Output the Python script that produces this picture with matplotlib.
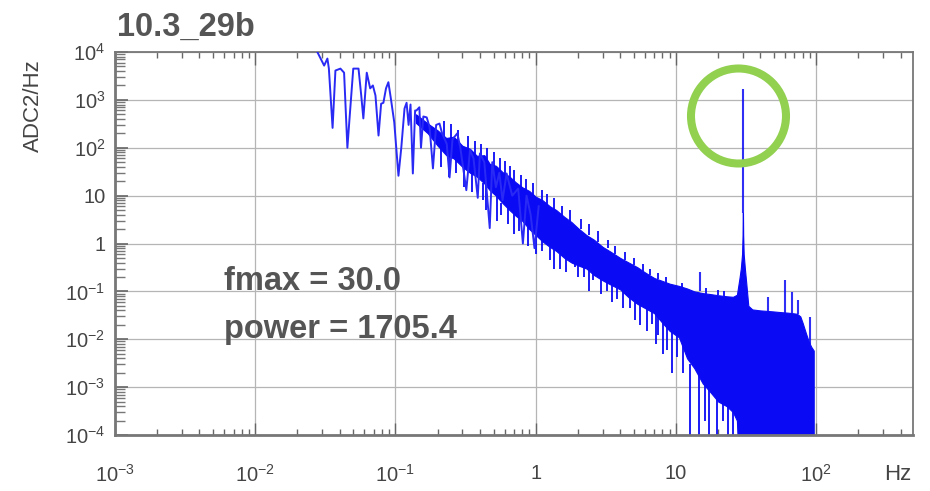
import matplotlib
matplotlib.use('agg')
import matplotlib.pyplot as plt
import numpy as np
from matplotlib import ticker
from matplotlib.patches import Ellipse

plt.rcParams['font.family'] = ['Liberation Sans', 'DejaVu Sans']
plt.rcParams['mathtext.fontset'] = 'custom'
plt.rcParams['mathtext.rm'] = 'Liberation Sans'
plt.rcParams['mathtext.bf'] = 'Liberation Sans:bold'

######## values ########
title = '10.3_29b'
fmax = 30.0
power = 1705.4

# low frequency part, single spiky trace
line_f = [0.0274, 0.031, 0.0327, 0.0335, 0.0356, 0.0373, 0.0405, 0.043, 0.0454, 0.047,
          0.050, 0.0545, 0.057, 0.059, 0.0624, 0.066, 0.069, 0.072, 0.0757, 0.079,
          0.082, 0.0856, 0.089, 0.093, 0.098, 0.105, 0.110, 0.116, 0.120, 0.124,
          0.128, 0.133, 0.138, 0.141, 0.148, 0.152, 0.158, 0.167, 0.175, 0.185,
          0.195, 0.206, 0.215, 0.232, 0.243, 0.255, 0.276, 0.29, 0.32, 0.34,
          0.36, 0.386, 0.40, 0.43, 0.47, 0.49, 0.52, 0.55, 0.58, 0.62,
          0.68, 0.75, 0.81, 0.86, 0.92, 0.98, 1.05]
line_p = [10700, 5200, 7300, 4500, 260, 4100, 4500, 3700, 100, 400,
          4500, 4500, 1230, 410, 3700, 1740, 2000, 1230, 180, 830,
          870, 1740, 2340, 1000, 340, 26, 100, 660, 870, 300,
          800, 29, 600, 600, 700, 100, 450, 430, 270, 37,
          300, 320, 200, 120, 24, 150, 200, 100, 13, 90,
          60, 9, 76, 50, 2.1, 50, 15, 30, 8, 29,
          10, 14, 1.0, 10, 4, 0.8, 6]

# dense part: upper / lower edge of the blue band
band_f = [0.14, 0.17, 0.2, 0.23, 0.26, 0.3, 0.34, 0.38, 0.43, 0.47, 0.52, 0.58,
          0.65, 0.72, 0.8, 0.9, 1.0, 1.12, 1.26, 1.4, 1.6, 1.8,
          2.0, 2.3, 2.6, 3.0, 3.4, 4.0, 4.6, 5.3, 6.0, 7.0,
          8.0, 9.0, 10.5, 12, 13.5, 15.5, 17.5, 20, 23, 25.5,
          27.2, 28.3, 29.0, 29.6, 29.85, 29.95, 30.05, 30.15, 30.4, 31.0, 31.7, 32.8,
          35, 40, 45, 50, 55, 62, 68, 73, 77, 80,
          84, 88, 92, 96]
band_hi = [500, 320, 230, 160, 170, 110, 95, 68, 70, 46, 42, 31,
           25, 19, 15, 12.5, 9.5, 8, 6, 5, 3.6, 2.8,
           2.1, 1.5, 1.2, 0.85, 0.68, 0.5, 0.4, 0.32, 0.25, 0.19,
           0.165, 0.145, 0.13, 0.115, 0.1, 0.092, 0.088, 0.083, 0.079, 0.077,
           0.085, 0.18, 0.3, 0.6, 1.5, 4.4, 4.4, 1.5, 0.6, 0.3, 0.15, 0.05,
           0.042, 0.04, 0.039, 0.038, 0.037, 0.036, 0.035, 0.034, 0.03, 0.022,
           0.014, 0.0093, 0.007, 0.0058]
band_lo = [330, 200, 110, 70, 60, 40, 30, 25, 18, 13, 10, 7,
           5, 3.8, 3.0, 2.0, 1.5, 1.1, 0.85, 0.7, 0.5, 0.4,
           0.35, 0.3, 0.22, 0.17, 0.14, 0.11, 0.075, 0.055, 0.045, 0.035,
           0.022, 0.015, 0.011, 0.004, 0.0025, 0.0012, 0.0008, 0.0005, 0.0004, 0.0003,
           0.0002, 1e-5, 1e-5, 1e-5, 1e-5, 1e-5, 1e-5, 1e-5, 1e-5, 1e-5, 1e-5, 1e-5,
           1e-5, 1e-5, 1e-5, 1e-5, 1e-5, 1e-5, 1e-5, 1e-5, 1e-5, 1e-5,
           1e-5, 1e-5, 1e-5, 1e-5]

# short whiskers on top of the band
up_f = [0.22, 0.25, 0.28, 0.33, 0.37, 0.41, 0.45, 0.5, 0.56, 0.6,
        0.66, 0.7, 0.78, 0.85, 0.95, 1.1, 1.2, 1.35, 1.55, 1.75,
        2.1, 2.4, 2.8, 3.3, 3.7, 4.3, 5.0, 5.8, 6.5, 7.5,
        8.5, 11, 16.5, 20, 22]
up_lo = [150, 150, 120, 80, 70, 60, 45, 35, 30, 25,
         20, 18, 14, 11, 9, 7, 6, 5, 3.5, 2.8,
         2.0, 1.5, 1.1, 0.8, 0.6, 0.45, 0.35, 0.27, 0.22, 0.18,
         0.15, 0.12, 0.09, 0.085, 0.08]
up_hi = [360, 320, 230, 180, 140, 120, 100, 80, 62, 52,
         42, 35, 27, 22, 18, 13, 11, 9, 6.2, 5,
         3.2, 2.5, 1.8, 1.2, 0.9, 0.68, 0.5, 0.38, 0.3, 0.24,
         0.2, 0.15, 0.115, 0.105, 0.1]

# downward dips below the band
dip_f = [0.21, 0.24, 0.27, 0.31, 0.35, 0.42, 0.44, 0.53, 0.57, 0.63,
         0.7, 0.76, 0.88, 1.0, 1.1, 1.26, 1.35, 1.5, 1.65, 1.9,
         2.0, 2.2, 2.4, 2.55, 2.9, 3.2, 3.5, 3.8, 4.2, 4.7,
         5.1, 5.5, 6.2, 6.8, 7.2, 7.5, 8.1, 8.6, 9.3, 10.2,
         11.3, 12.6, 14.5, 16, 17.3, 19.5, 21.6, 23.5, 25.5]
dip_lo = [40, 25, 30, 15, 12, 8, 5, 3, 4, 2.5,
          1.6, 1.8, 0.9, 0.6, 0.7, 0.45, 0.3, 0.3, 0.25, 0.32,
          0.2, 0.2, 0.1, 0.17, 0.09, 0.1, 0.06, 0.07, 0.045, 0.046,
          0.025, 0.02, 0.015, 0.021, 0.008, 0.012, 0.005, 0.006, 0.002, 0.0042,
          0.002, 1e-5, 1e-5, 2e-4, 1e-5, 1e-5, 2e-4, 1e-5, 1e-5]
dip_hi = [110, 70, 60, 40, 30, 18, 18, 10, 7, 6,
          4.5, 3.5, 2.2, 1.6, 1.2, 0.85, 0.75, 0.6, 0.5, 0.4,
          0.36, 0.33, 0.3, 0.25, 0.2, 0.16, 0.15, 0.12, 0.11, 0.08,
          0.06, 0.055, 0.045, 0.04, 0.035, 0.03, 0.022, 0.02, 0.015, 0.012,
          0.008, 0.003, 0.002, 0.0012, 0.001, 0.0006, 0.0005, 0.0004, 0.0003]

# narrow lines sticking out of the band
spike_f = [14.8, 45, 60, 67, 74.7, 90, 30.0]
spike_lo = [0.1, 0.039, 0.036, 0.035, 0.034, 0.008, 4.4]
spike_hi = [0.25, 0.075, 0.17, 0.095, 0.065, 0.029, power]

xticks = [1e-3, 1e-2, 1e-1, 1, 10, 100]
xlabels = [r'$10^{-3}$', r'$10^{-2}$', r'$10^{-1}$', '1', '10', r'$10^{2}$']
yticks = [1e-4, 1e-3, 1e-2, 1e-1, 1, 10, 100, 1e3, 1e4]
ylabels = [r'$10^{-4}$', r'$10^{-3}$', r'$10^{-2}$', r'$10^{-1}$', '1', '10',
           r'$10^{2}$', r'$10^{3}$', r'$10^{4}$']

blue = '#0a0af5'
txt = '#444444'
gray_txt = '#555555'

fig = plt.figure(figsize=(9.3, 4.91), dpi=100)
ax = fig.add_axes([115/930., 1-435/491., (913-115)/930., (435-52)/491.])
ax.set_xscale('log')
ax.set_yscale('log')

ax.fill_between(band_f, band_lo, band_hi, color=blue, lw=0.8, zorder=2)
ax.vlines(up_f, up_lo, up_hi, color=blue, lw=1.3, zorder=2)
ax.vlines(dip_f, dip_lo, dip_hi, color=blue, lw=1.3, zorder=2)
ax.vlines(spike_f, spike_lo, spike_hi, color=blue, lw=1.5, alpha=0.85, zorder=2)
ax.plot(line_f, line_p, color='#2a2af5', lw=1.4, zorder=3)

ax.set_xlim(1e-3, 490)
ax.set_ylim(1e-4, 1e4)

ax.grid(True, which='major', color='#b5b5b5', lw=0.9)
ax.set_axisbelow(True)

ax.xaxis.set_major_locator(ticker.FixedLocator(xticks))
ax.xaxis.set_major_formatter(ticker.FixedFormatter(xlabels))
ax.yaxis.set_major_locator(ticker.FixedLocator(yticks))
ax.yaxis.set_major_formatter(ticker.FixedFormatter(ylabels))
ax.xaxis.set_minor_locator(ticker.LogLocator(base=10, subs=np.arange(2, 10), numticks=20))
ax.yaxis.set_minor_locator(ticker.LogLocator(base=10, subs=np.arange(2, 10), numticks=20))
ax.xaxis.set_minor_formatter(ticker.NullFormatter())
ax.yaxis.set_minor_formatter(ticker.NullFormatter())

ax.tick_params(axis='x', which='major', direction='in', length=9, width=1, color='#666666',
               top=True, bottom=True, pad=21, labelsize=14.5, labelcolor=txt)
ax.tick_params(axis='x', which='minor', direction='in', length=4, width=1, color='#666666',
               top=True, bottom=True)
ax.tick_params(axis='y', which='major', direction='in', length=9, width=1.2, color='#666666',
               left=True, right=False, pad=7, labelsize=14.5, labelcolor=txt)
ax.tick_params(axis='y', which='minor', direction='in', length=7, width=1, color='#777777',
               left=True, right=False)

for s in ax.spines.values():
    s.set_color('#777777')
    s.set_linewidth(1.3)
ax.spines['bottom'].set_linewidth(2)
ax.spines['left'].set_linewidth(2)

fig.text(33/930., 1-106/491., 'ADC2/Hz', fontsize=16, color=txt, rotation=90,
         ha='center', va='center')
fig.text(117/930., 1-36/491., title, fontsize=23.5, fontweight='bold', color=gray_txt,
         ha='left', va='baseline')
fig.text(898/930., 1-475/491., 'Hz', fontsize=16, color=txt, ha='center', va='center')

ax.text(224/930., 1-290/491., 'fmax = %.1f' % fmax, transform=fig.transFigure,
        fontsize=23.5, fontweight='bold', color=gray_txt, ha='left', va='baseline')
ax.text(224/930., 1-338/491., 'power = %.1f' % power, transform=fig.transFigure,
        fontsize=23.5, fontweight='bold', color=gray_txt, ha='left', va='baseline')

ring = Ellipse((738.5/930., 1-116/491.), 2*47.5/930., 2*47.5/491., transform=fig.transFigure,
               fill=False, edgecolor='#92d050', lw=5.8, zorder=10)
fig.patches.append(ring)

fig.savefig('out.png', dpi=100)
